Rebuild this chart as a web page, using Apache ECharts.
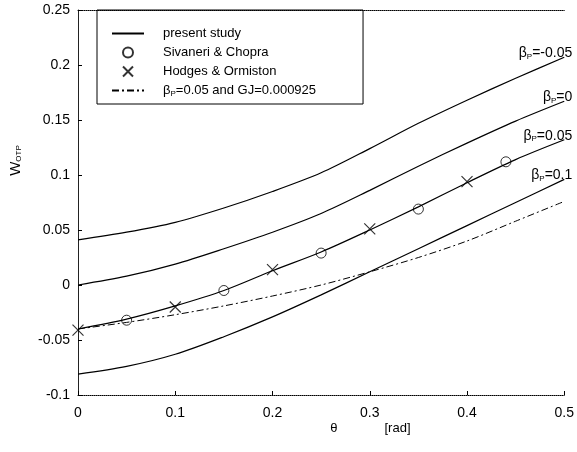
<!DOCTYPE html>
<html><head><meta charset="utf-8">
<script src="https://cdn.jsdelivr.net/npm/echarts@6/dist/echarts.min.js"></script>
<style>html,body{margin:0;padding:0;background:#fff}#c{width:577px;height:452px}</style>
</head><body><div id="c"></div>
<script>
// theta [rad]
const theta = [0, 0.05, 0.1, 0.15, 0.2, 0.25, 0.3, 0.35, 0.4, 0.45, 0.5];
// present study curves, one per beta_P
const betaNeg005 = [0.041, 0.048, 0.057, 0.070, 0.085, 0.102, 0.124, 0.147, 0.168, 0.188, 0.207];
const beta0      = [0.000, 0.008, 0.019, 0.033, 0.048, 0.065, 0.086, 0.108, 0.129, 0.149, 0.167];
const beta005    = [-0.040, -0.031, -0.019, -0.005, 0.013, 0.030, 0.050, 0.071, 0.093, 0.114, 0.132];
const beta01     = [-0.081, -0.074, -0.063, -0.047, -0.029, -0.009, 0.012, 0.033, 0.054, 0.075, 0.096];
// beta_P=0.05 and GJ=0.000925
const gjCurve    = [-0.040, -0.034, -0.027, -0.019, -0.010, 0.000, 0.012, 0.025, 0.040, 0.058, 0.076];
// Sivaneri & Chopra
const sivaneriX = [0.05, 0.15, 0.25, 0.35, 0.44];
const sivaneriY = [-0.032, -0.005, 0.029, 0.069, 0.112];
// Hodges & Ormiston
const hodgesX = [0, 0.1, 0.2, 0.3, 0.4];
const hodgesY = [-0.041, -0.020, 0.014, 0.051, 0.094];
// tick labels / curve labels
const xTicks = [0, 0.1, 0.2, 0.3, 0.4, 0.5];
const yTicks = [-0.1, -0.05, 0, 0.05, 0.1, 0.15, 0.2, 0.25];
const curveLabels = ['=-0.05', '=0', '=0.05', '=0.1'];
const gjName = 'βP=0.05 and GJ=0.000925';

const FONT = 'Liberation Sans, Arial, sans-serif';
const zip = (xs, ys) => xs.map((x, i) => [x, ys[i]]);
const richSub = {
  b: {fontSize: 14, fontFamily: FONT, color: '#000'},
  p: {fontSize: 8, fontFamily: FONT, color: '#000', verticalAlign: 'bottom', padding: [6, 0, 0, 0]},
  t: {fontSize: 14, fontFamily: FONT, color: '#000'}
};
const legRich = {
  b: {fontSize: 13, fontFamily: FONT, color: '#000', lineHeight: 15},
  p: {fontSize: 8, fontFamily: FONT, color: '#000', verticalAlign: 'bottom', lineHeight: 15, padding: [4, 0, 0, 0]},
  t: {fontSize: 13, fontFamily: FONT, color: '#000', lineHeight: 15}
};
const hideSym = {color: 'rgba(0,0,0,0)', borderWidth: 0, opacity: 0};

function studyLine(arr, lab) {
  return {
    name: 'present study', type: 'line', data: zip(theta, arr),
    symbol: 'none', smooth: 0.3,
    lineStyle: {color: '#000', width: 1.2}, itemStyle: {color: '#000'},
    endLabel: {show: true, formatter: '{b|β}{p|P}{t|' + lab + '}', rich: richSub,
      align: 'right', verticalAlign: 'bottom', distance: 0, offset: [8, 3]},
    z: 3
  };
}

const chart = echarts.init(document.getElementById('c'));
chart.setOption({
  animation: false,
  backgroundColor: '#fff',
  grid: {left: 73, right: 7, top: 10, bottom: 57},
  legend: {
    orient: 'vertical', left: 97, top: 10,
    padding: [16, 47, 6, 14],
    itemWidth: 32, itemHeight: 10, itemGap: 4,
    borderColor: '#000', borderWidth: 1,
    textStyle: {fontSize: 13, lineHeight: 15, fontFamily: FONT, color: '#000', padding: [0, 0, 0, 14], rich: legRich},
    formatter: function (name) {
      if (name === gjName) return '{b|β}{p|P}{t|=0.05 and GJ=0.000925}';
      return name;
    },
    data: [
      {name: 'present study', itemStyle: hideSym},
      'Sivaneri & Chopra', 'Hodges & Ormiston',
      {name: gjName, itemStyle: hideSym}
    ]
  },
  xAxis: [{
    type: 'value', min: 0, max: 0.5, interval: 0.1,
    axisLine: {onZero: false, lineStyle: {color: '#000', width: 1, type: 'dotted'}},
    axisTick: {inside: true, length: 4, lineStyle: {color: '#000'}},
    splitLine: {show: false},
    axisLabel: {fontSize: 14, fontFamily: FONT, color: '#000', margin: 11,
      formatter: v => xTicks.indexOf(+v.toFixed(2)) >= 0 ? String(+v.toFixed(2)) : ''},
    name: '{a|θ}{g|}{r|[rad]}', nameLocation: 'end', nameGap: -234,
    nameTextStyle: {verticalAlign: 'top', align: 'left', padding: [27, 0, 0, 0],
      rich: {a: {fontSize: 13, fontFamily: FONT, color: '#000'}, g: {width: 47}, r: {fontSize: 13, fontFamily: FONT, color: '#000'}}}
  }, {
    type: 'value', position: 'top', min: 0, max: 0.5,
    axisLine: {onZero: false, lineStyle: {color: '#000', width: 1, type: 'dotted'}},
    axisTick: {show: false}, axisLabel: {show: false}, splitLine: {show: false}
  }],
  yAxis: {
    type: 'value', min: -0.1, max: 0.25, interval: 0.05,
    axisLine: {show: true, onZero: false, lineStyle: {color: '#222', width: 1}},
    axisTick: {show: true, inside: true, length: 4, lineStyle: {color: '#000'}},
    splitLine: {show: false},
    axisLabel: {fontSize: 14, fontFamily: FONT, color: '#000', margin: 8, padding: [0, 0, 12, 0],
      formatter: v => { const r = +v.toFixed(2); return yTicks.indexOf(r) >= 0 ? String(r) : ''; }},
    name: '{w|W}{s|OTP}', nameLocation: 'middle', nameRotate: 90, nameGap: 55,
    nameTextStyle: {padding: [0, 0, 0, 84],
      rich: {w: {fontSize: 15, fontFamily: FONT, color: '#000'},
             s: {fontSize: 8, fontFamily: FONT, color: '#000', verticalAlign: 'bottom', padding: [6, 0, 0, 0]}}}
  },
  series: [
    studyLine(betaNeg005, curveLabels[0]),
    studyLine(beta0, curveLabels[1]),
    studyLine(beta005, curveLabels[2]),
    studyLine(beta01, curveLabels[3]),
    {
      name: gjName, type: 'line', data: zip(theta, gjCurve), symbol: 'none',
      smooth: 0.3,
      lineStyle: {color: '#000', width: 1, type: [7, 3, 2, 3]}, itemStyle: {color: '#000'}
    },
    {
      name: 'Sivaneri & Chopra', type: 'scatter', data: zip(sivaneriX, sivaneriY),
      symbol: 'circle', symbolSize: 10,
      itemStyle: {color: 'rgba(0,0,0,0)', borderColor: '#000', borderWidth: 1}, z: 4
    },
    {
      name: 'Hodges & Ormiston', type: 'scatter', data: zip(hodgesX, hodgesY),
      symbol: 'path://M0,0L10,10M10,0L0,10', symbolSize: 11,
      itemStyle: {color: 'rgba(0,0,0,0)', borderColor: '#000', borderWidth: 1.2}, z: 4
    }
  ]
});
</script></body></html>
